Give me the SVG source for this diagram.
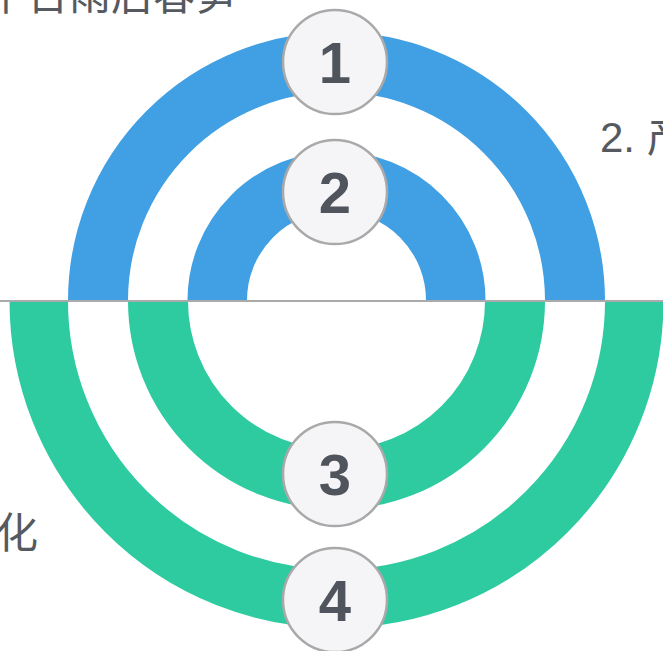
<svg xmlns="http://www.w3.org/2000/svg" width="663" height="651" viewBox="0 0 663 651">
<style>
.blue{fill:none;stroke:#41a0e4;}
.green{fill:none;stroke:#2fcba0;}
.badge circle{fill:#f5f5f7;stroke:#a9a9a9;stroke-width:2.5;}
.badge text{font-family:"Liberation Sans",Arial,sans-serif;font-weight:bold;font-size:58px;fill:#50545c;text-anchor:middle;}
.label{font-family:"Liberation Sans","Noto Sans CJK SC",sans-serif;font-size:42px;fill:#555a61;}
</style>
<rect width="663" height="651" fill="#ffffff"/>
<g id="arcs">
<path class="blue" stroke-width="60" d="M98,300.5 A238.5,238.5 0 0 1 575,300.5"/>
<path class="blue" stroke-width="59.5" d="M217.25,300.5 A119.25,119.25 0 0 1 455.75,300.5"/>
<path class="green" stroke-width="60" d="M158,301 A178.5,178.5 0 0 0 515,301"/>
<path class="green" stroke-width="58.5" d="M38.75,301 A297.75,297.75 0 0 0 634.25,301"/>
</g>
<g id="connectors">
<line x1="0" y1="301" x2="663" y2="301" stroke="#aaaaaa" stroke-width="2"/>
</g>
<g id="labels">
<text class="label" x="237" y="10" text-anchor="end">平台雨后春笋</text>
<text class="label" x="600" y="152">2. 产</text>
<text class="label" x="38" y="548" text-anchor="end">化</text>
</g>
<g id="node1" class="badge"><circle cx="335" cy="62" r="52"/><text x="335" y="83">1</text></g>
<g id="node2" class="badge"><circle cx="335" cy="192" r="52"/><text x="335" y="213">2</text></g>
<g id="node3" class="badge"><circle cx="335" cy="474" r="52"/><text x="335" y="495">3</text></g>
<g id="node4" class="badge"><circle cx="335" cy="600" r="52"/><text x="335" y="621">4</text></g>
</svg>
